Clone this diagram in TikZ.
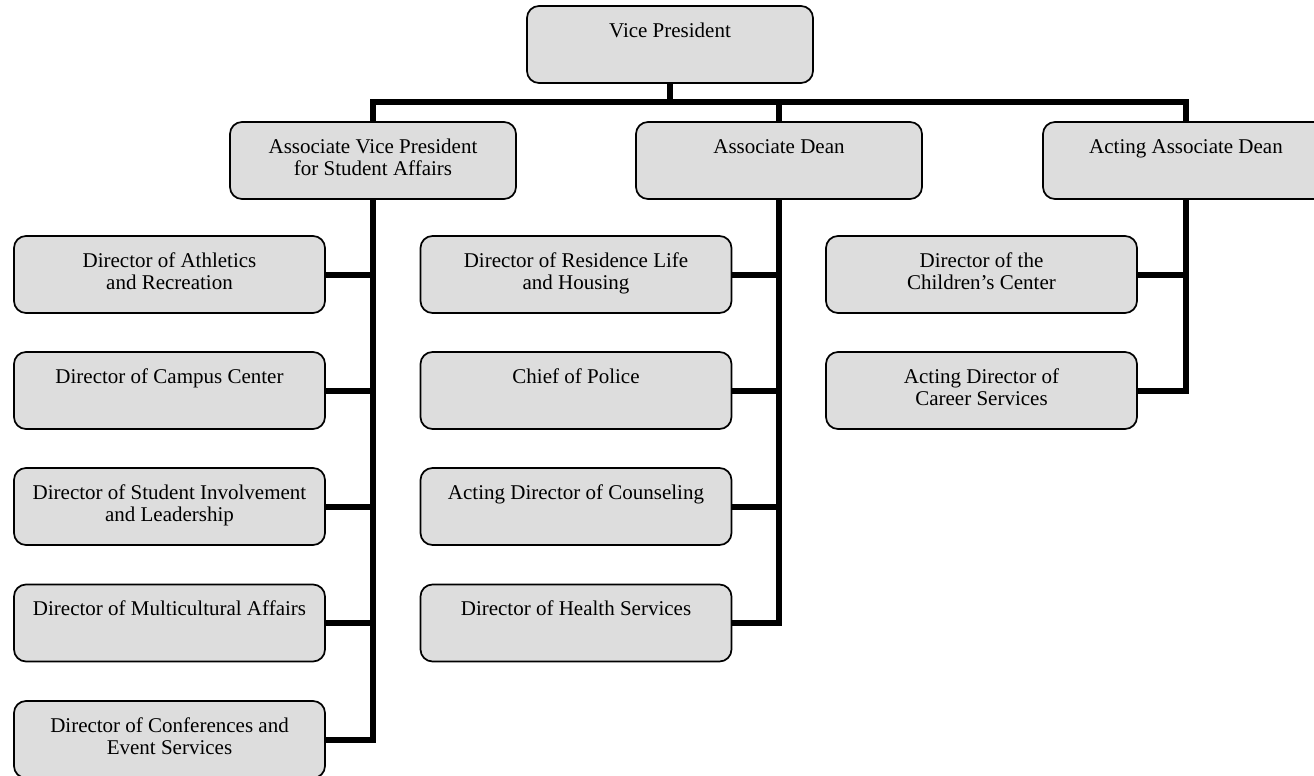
\documentclass[tikz,border=0pt]{standalone}
\usepackage{fontspec}
\setmainfont{Liberation Serif}
\definecolor{boxfill}{HTML}{DDDDDD}
% box label: fixed-height parbox, lines set from the top
\newcommand\orgtext[2]{\parbox[c][57.75pt][t]{#1}{\centering\vspace*{11.35pt}\strut #2}}
\tikzset{
  orgbox/.style={draw, line width=1.3pt, rounded corners=9pt, fill=boxfill,
    inner sep=0pt, minimum height=57.75pt, font=\fontsize{15.75}{17}\selectfont},
  topbox/.style={orgbox, minimum width=214.5pt},
  subbox/.style={orgbox, minimum width=233.25pt},
  link/.style={line width=4.5pt}
}
\begin{document}
\begin{tikzpicture}[x=0.75pt,y=-0.75pt]
\clip (0,0) rectangle (1314,775);

% top levels
\node[topbox] (vp)  at (670,44.5)  {\orgtext{205pt}{Vice President}};
\node[topbox] (avp) at (373,160.5) {\orgtext{205pt}{Associate Vice President\\for Student Affairs}};
\node[topbox] (ad)  at (779,160.5) {\orgtext{205pt}{Associate Dean}};
\node[topbox] (aad) at (1186,160.5){\orgtext{205pt}{Acting Associate Dean}};

% units under the Associate Vice President
\node[subbox] (l1) at (169.5,274.5) {\orgtext{228pt}{Director of Athletics\\and Recreation}};
\node[subbox] (l2) at (169.5,390.5) {\orgtext{228pt}{Director of Campus Center}};
\node[subbox] (l3) at (169.5,506.5) {\orgtext{228pt}{Director of Student Involvement\\and Leadership}};
\node[subbox] (l4) at (169.5,623)   {\orgtext{228pt}{Director of Multicultural Affairs}};
\node[subbox] (l5) at (169.5,739.5) {\orgtext{228pt}{Director of Conferences and\\Event Services}};

% units under the Associate Dean
\node[subbox] (m1) at (576,274.5) {\orgtext{228pt}{Director of Residence Life\\and Housing}};
\node[subbox] (m2) at (576,390.5) {\orgtext{228pt}{Chief of Police}};
\node[subbox] (m3) at (576,506.5) {\orgtext{228pt}{Acting Director of Counseling}};
\node[subbox] (m4) at (576,623)   {\orgtext{228pt}{Director of Health Services}};

% units under the Acting Associate Dean
\node[subbox] (r1) at (981.5,274.5) {\orgtext{228pt}{Director of the\\Children’s Center}};
\node[subbox] (r2) at (981.5,390.5) {\orgtext{228pt}{Acting Director of\\Career Services}};

% connectors
\coordinate (bus) at (670,102);
\draw[link] (vp.south) -- (vp.south |- bus);
\draw[link] (avp.north) -- (avp.north |- bus) -- (aad.north |- bus) -- (aad.north);
\draw[link] (ad.north) -- (ad.north |- bus);

\draw[link] (avp.south) -- (avp.south |- l5.east) -- (l5.east);
\foreach \n in {l1,l2,l3,l4} \draw[link] (\n.east) -- (\n.east -| avp.south);

\draw[link] (ad.south) -- (ad.south |- m4.east) -- (m4.east);
\foreach \n in {m1,m2,m3} \draw[link] (\n.east) -- (\n.east -| ad.south);

\draw[link] (aad.south) -- (aad.south |- r2.east) -- (r2.east);
\draw[link] (r1.east) -- (r1.east -| aad.south);
\end{tikzpicture}
\end{document}
